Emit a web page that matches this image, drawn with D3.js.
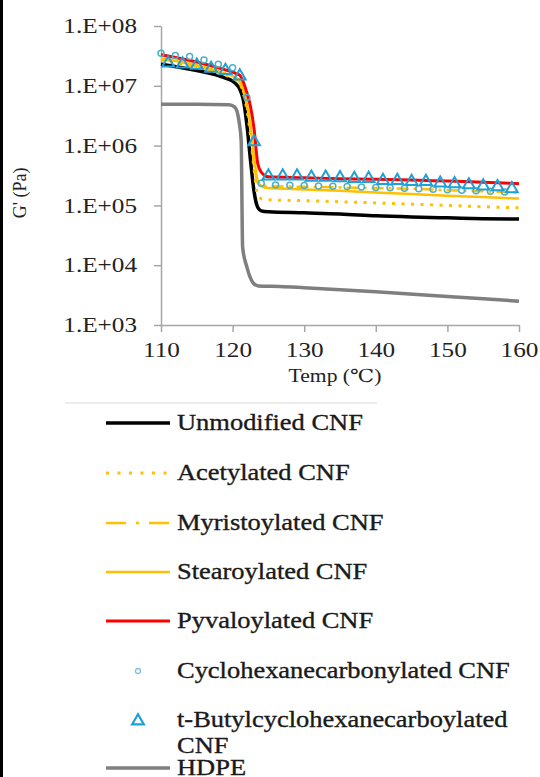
<!DOCTYPE html>
<html>
<head>
<meta charset="utf-8">
<script src="https://cdn.jsdelivr.net/npm/d3@7"></script>
<style>
  body { margin: 0; background: #fff; }
  #chart { width: 540px; height: 777px; position: relative; }
  .tick text { font-family: "Liberation Serif", "DejaVu Serif", "Times New Roman", serif; font-size: 21px; fill: #222; }
  .axis path, .axis line { stroke: #a6a6a6; stroke-width: 1.5; }
  .axisLabel { font-family: "Liberation Serif", "DejaVu Serif", "Times New Roman", serif; fill: #222; }
  .legendText { font-family: "Liberation Serif", "DejaVu Serif", "Times New Roman", serif; font-size: 23px; fill: #1a1a1a; stroke: #1a1a1a; stroke-width: 0.35; }
</style>
</head>
<body>
<div id="chart"></div>
<script>
// temperatures (°C) shared by the CNF line series
const cnfTemps = [110, 115, 119, 120, 120.5, 121, 121.5, 122, 122.5, 123, 123.5, 124, 125, 130, 135, 140, 145, 150, 155, 160];

// G' (Pa) for each line series
const unmodified = [2.3e7, 1.8e7, 1.35e7, 1.2e7, 1.07e7, 8.8e6, 5.8e6, 2.2e6, 5.7e5, 1.7e5, 9.3e4, 8.1e4, 7.8e4, 7.5e4, 7.2e4, 6.7e4, 6.4e4, 6.2e4, 6.0e4, 5.9e4];
const acetylated = [2.7e7, 2.0e7, 1.5e7, 1.35e7, 1.25e7, 1.1e7, 7.5e6, 4.0e6, 1.5e6, 4.0e5, 1.5e5, 1.3e5, 1.24e5, 1.2e5, 1.15e5, 1.1e5, 1.05e5, 1.0e5, 9.5e4, 9.1e4];
const myristoylated = [2.8e7, 2.1e7, 1.55e7, 1.4e7, 1.3e7, 1.15e7, 8.0e6, 4.5e6, 1.8e6, 5.0e5, 2.4e5, 2.2e5, 2.1e5, 2.05e5, 2.0e5, 1.95e5, 1.9e5, 1.8e5, 1.72e5, 1.65e5];
const stearoylated = [2.9e7, 2.2e7, 1.6e7, 1.45e7, 1.35e7, 1.2e7, 8.5e6, 5.0e6, 2.2e6, 6.5e5, 2.6e5, 2.1e5, 1.95e5, 1.85e5, 1.75e5, 1.65e5, 1.55e5, 1.45e5, 1.38e5, 1.3e5];
const pyvaloylated = [3.3e7, 2.5e7, 1.85e7, 1.7e7, 1.6e7, 1.5e7, 1.15e7, 7.6e6, 4.5e6, 1.9e6, 5.1e5, 3.6e5, 3.0e5, 2.9e5, 2.8e5, 2.75e5, 2.65e5, 2.55e5, 2.45e5, 2.3e5];

// HDPE has its own temperature points (earlier, sharper drop)
const hdpeTemps = [110, 115, 119.5, 120.3, 120.8, 121, 121.2, 121.4, 122, 122.4, 122.9, 123.6, 126.6, 130, 140, 150, 160];
const hdpe = [4.9e6, 4.9e6, 4.8e6, 4.4e6, 3.0e6, 2.1e6, 1.2e6, 2.0e4, 9.3e3, 6.5e3, 5.0e3, 4.5e3, 4.4e3, 4.2e3, 3.6e3, 3.0e3, 2.5e3];

// marker-only series
const cycloTemps = [110, 112, 114, 116, 118, 120, 122, 124, 126, 128, 130, 132, 134, 136, 138, 140, 142, 144, 146, 148, 150, 152, 154, 156, 158];
const cyclo = [3.5e7, 3.2e7, 3.1e7, 2.7e7, 2.3e7, 2.0e7, 6.4e6, 2.35e5, 2.2e5, 2.18e5, 2.15e5, 2.12e5, 2.1e5, 2.07e5, 2.03e5, 2.0e5, 1.97e5, 1.94e5, 1.9e5, 1.87e5, 1.83e5, 1.8e5, 1.76e5, 1.72e5, 1.68e5];
const butylTemps = [111, 113, 115, 117, 119, 121, 123, 125, 127, 129, 131, 133, 135, 137, 139, 141, 143, 145, 147, 149, 151, 153, 155, 157, 159];
const butyl = [2.4e7, 2.3e7, 2.2e7, 1.95e7, 1.8e7, 1.45e7, 1.15e6, 3.1e5, 3.1e5, 3.1e5, 2.95e5, 2.95e5, 2.9e5, 2.8e5, 2.8e5, 2.6e5, 2.6e5, 2.5e5, 2.5e5, 2.35e5, 2.3e5, 2.2e5, 2.1e5, 2.05e5, 1.9e5];

// tick labels
const xTicks = [110, 120, 130, 140, 150, 160];
const yTicks = [1e3, 1e4, 1e5, 1e6, 1e7, 1e8];

// legend labels
const legendNames = ["Unmodified CNF", "Acetylated CNF", "Myristoylated CNF", "Stearoylated CNF", "Pyvaloylated CNF", "Cyclohexanecarbonylated CNF", "t-Butylcyclohexanecarboylated|CNF", "HDPE"];

const width = 540;
const height = 777;

const svg = d3.select("#chart")
  .append("svg")
  .attr("width", width)
  .attr("height", height);

// widen a text horizontally (the source font is broader than Times)
function stretch(sel, k) {
  sel.each(function() {
    const w = this.getComputedTextLength();
    d3.select(this)
      .attr("textLength", w * k)
      .attr("lengthAdjust", "spacingAndGlyphs");
  });
}

// black strip down the left edge
svg.append("rect")
  .attr("x", 0)
  .attr("y", 0)
  .attr("width", 3)
  .attr("height", height)
  .attr("fill", "#000");

const xScale = d3.scaleLinear()
  .domain([110, 160])
  .range([161, 519]);

const yScale = d3.scaleLog()
  .domain([1e3, 1e8])
  .range([325, 26]);

const xAxis = svg.append("g")
  .attr("class", "axis")
  .attr("transform", "translate(0,325)")
  .call(d3.axisBottom(xScale).tickValues(xTicks).tickSize(7).tickPadding(6).tickSizeOuter(0));

const yAxis = svg.append("g")
  .attr("class", "axis")
  .attr("transform", "translate(161,0)")
  .call(d3.axisLeft(yScale).tickValues(yTicks).tickSize(7).tickPadding(17).tickSizeOuter(0)
    .tickFormat(function(d) {
      return "1.E+" + d3.format("02d")(Math.round(Math.log10(d)));
    }));

xAxis.selectAll(".tick text").attr("dy", "0.9em");
stretch(svg.selectAll(".tick text"), 1.2);

// axis titles
const xTitle = svg.append("text")
  .attr("class", "axisLabel")
  .attr("x", 335)
  .attr("y", 382)
  .attr("text-anchor", "middle")
  .style("font-size", "18px")
  .text("Temp (℃)");
stretch(xTitle, 1.2);

svg.append("text")
  .attr("class", "axisLabel")
  .attr("transform", "translate(26,193) rotate(-90)")
  .attr("text-anchor", "middle")
  .style("font-size", "18px")
  .text("G' (Pa)");

const line = d3.line()
  .x(function(d) { return xScale(d.t); })
  .y(function(d) { return yScale(d.v); })
  .curve(d3.curveMonotoneX);

function zipSeries(temps, values) {
  return temps.map(function(t, i) {
    return { t: t, v: values[i] };
  });
}

// line series styles, drawn in this order
const lineSeries = [
  { data: zipSeries(hdpeTemps, hdpe), color: "#7f7f7f", width: 3.5, dash: null },
  { data: zipSeries(cnfTemps, unmodified), color: "#000000", width: 3.5, dash: null },
  { data: zipSeries(cnfTemps, acetylated), color: "#ffc000", width: 3, dash: "3 6.5" },
  { data: zipSeries(cnfTemps, myristoylated), color: "#ffc000", width: 2.5, dash: "12 5 3 5" },
  { data: zipSeries(cnfTemps, stearoylated), color: "#ffc000", width: 2.5, dash: null },
  { data: zipSeries(cnfTemps, pyvaloylated), color: "#ff0000", width: 3, dash: null }
];

svg.selectAll("path.series")
  .data(lineSeries)
  .enter()
  .append("path")
  .attr("class", "series")
  .attr("d", function(d) { return line(d.data); })
  .attr("fill", "none")
  .attr("stroke", function(d) { return d.color; })
  .attr("stroke-width", function(d) { return d.width; })
  .attr("stroke-dasharray", function(d) { return d.dash; })
  .attr("stroke-linejoin", "round");

// open circles
svg.selectAll("circle.cyclo")
  .data(zipSeries(cycloTemps, cyclo))
  .enter()
  .append("circle")
  .attr("class", "cyclo")
  .attr("cx", function(d) { return xScale(d.t); })
  .attr("cy", function(d) { return yScale(d.v); })
  .attr("r", 3)
  .attr("fill", "none")
  .attr("stroke", "#4fb0c4")
  .attr("stroke-width", 1.5);

// open triangles
const triangle = d3.symbol().type(d3.symbolTriangle).size(60);

svg.selectAll("path.butyl")
  .data(zipSeries(butylTemps, butyl))
  .enter()
  .append("path")
  .attr("class", "butyl")
  .attr("d", triangle)
  .attr("transform", function(d) {
    return `translate(${xScale(d.t)},${yScale(d.v)})`;
  })
  .attr("fill", "none")
  .attr("stroke", "#1fa0d8")
  .attr("stroke-width", 2);

// legend
svg.append("line")
  .attr("x1", 65)
  .attr("x2", 377)
  .attr("y1", 403)
  .attr("y2", 403)
  .attr("stroke", "#d9d9d9")
  .attr("stroke-width", 1);

const legendBaselines = [430, 480, 530, 579, 628, 678, 727, 775];
const legendX1 = 106;
const legendX2 = 170;
const legendTextX = 177;

const legend = svg.append("g");

legendNames.forEach(function(name, i) {
  const base = legendBaselines[i];
  const my = base - 7;
  if (i < 5 || i == 7) {
    const s = i == 7 ? lineSeries[0] : lineSeries[i + 1];
    legend.append("line")
      .attr("x1", legendX1)
      .attr("x2", legendX2)
      .attr("y1", my)
      .attr("y2", my)
      .attr("stroke", s.color)
      .attr("stroke-width", s.width)
      .attr("stroke-dasharray", i == 1 ? "3 8.5" : (i == 2 ? "20 10 3 10" : null));
  } else if (i == 5) {
    legend.append("circle")
      .attr("cx", 138)
      .attr("cy", my)
      .attr("r", 2.5)
      .attr("fill", "none")
      .attr("stroke", "#7fc0e0")
      .attr("stroke-width", 1.3);
  } else {
    legend.append("path")
      .attr("d", triangle)
      .attr("transform", `translate(138,${my + 1})`)
      .attr("fill", "none")
      .attr("stroke", "#1fa0d8")
      .attr("stroke-width", 2.2);
  }
  const parts = name.split("|");
  parts.forEach(function(p, j) {
    legend.append("text")
      .attr("class", "legendText")
      .attr("x", legendTextX)
      .attr("y", base + j * 26)
      .text(p);
  });
});

stretch(legend.selectAll("text"), 1.15);
</script>
</body>
</html>
